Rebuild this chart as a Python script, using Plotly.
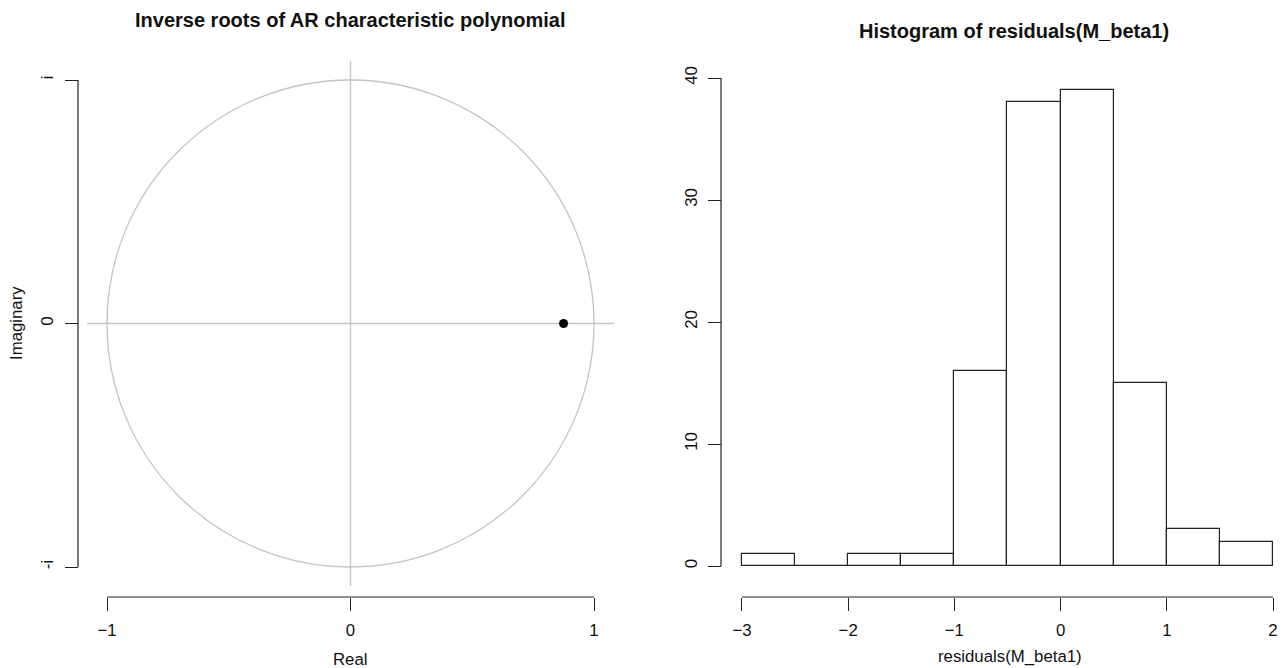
import plotly.graph_objects as go

W, H = 1282, 668

# ---- data ----
root_real = [0.875]
root_imag = [0.0]
ar_tickvals_x = [-1, 0, 1]
ar_ticktext_x = ["\u22121", "0", "1"]
ar_tickvals_y = [-1, 0, 1]
ar_ticktext_y = ["-i", "0", "i"]

bin_edges = [-3.0, -2.5, -2.0, -1.5, -1.0, -0.5, 0.0, 0.5, 1.0, 1.5, 2.0]
counts = [1, 0, 1, 1, 16, 38, 39, 15, 3, 2]
hist_tickvals_x = [-3, -2, -1, 0, 1, 2]
hist_ticktext_x = ["\u22123", "\u22122", "\u22121", "0", "1", "2"]
hist_tickvals_y = [0, 10, 20, 30, 40]

centers = [(a + b) / 2 for a, b in zip(bin_edges[:-1], bin_edges[1:])]
widths = [b - a for a, b in zip(bin_edges[:-1], bin_edges[1:])]

FONT = "Liberation Sans, Arial, sans-serif"
LAB = 16.8
TITLE = 20
GREY = "#c4c4c4"
AX = "#222222"

def px(x):
    return x / W

def py(y):
    return (H - y) / H

fig = go.Figure()

# AR roots point
fig.add_trace(go.Scatter(x=root_real, y=root_imag, mode="markers",
                         marker=dict(color="black", size=9),
                         xaxis="x", yaxis="y", showlegend=False, hoverinfo="skip"))

# histogram bars
fig.add_trace(go.Bar(x=centers, y=counts, width=widths,
                     marker=dict(color="white", line=dict(color=AX, width=1.2)),
                     xaxis="x2", yaxis="y2", showlegend=False))

axis_common = dict(showgrid=False, zeroline=False, showline=False,
                   ticks="outside", ticklen=13, tickwidth=1.2, tickcolor=AX,
                   tickfont=dict(family=FONT, size=LAB, color="#111"))

# left panel geometry (pixels)
L_x0, L_x1 = 87, 614
L_y0, L_y1 = 61, 586
ux = 243.5
xr = 1 + 20 / ux
yr = 1 + 19 / ux

# right panel geometry
R_x0, R_x1 = 720, 1282
R_y0, R_y1 = 58, 586
hx = 106.4
hy = 12.2

fig.update_layout(
    width=W, height=H,
    margin=dict(l=0, r=0, t=0, b=0),
    paper_bgcolor="white", plot_bgcolor="rgba(0,0,0,0)",
    bargap=0,
    xaxis=dict(domain=[px(L_x0), px(L_x1)], range=[-xr, xr],
               anchor="free", position=py(597),
               tickvals=ar_tickvals_x, ticktext=ar_ticktext_x,
               ticklabelstandoff=5, **axis_common),
    yaxis=dict(domain=[py(L_y1), py(L_y0)], range=[-yr, yr],
               anchor="free", position=px(78),
               tickvals=ar_tickvals_y, ticktext=ar_ticktext_y,
               tickangle=-90, ticklabelstandoff=5, **axis_common),
    xaxis2=dict(domain=[px(R_x0), px(R_x1)],
                range=[-3 - 22 / hx, 2 + (R_x1 - 1273) / hx],
                anchor="free", position=py(597),
                tickvals=hist_tickvals_x, ticktext=hist_ticktext_x,
                ticklabelstandoff=5, **axis_common),
    yaxis2=dict(domain=[py(R_y1), py(R_y0)],
                range=[-(R_y1 - 566) / hy, 40 + (78 - R_y0) / hy],
                anchor="free", position=px(721),
                tickvals=hist_tickvals_y, tickangle=-90,
                ticklabelstandoff=4, **axis_common),
)

shapes = []
# unit circle and grey reference lines
shapes.append(dict(type="circle", xref="x", yref="y", x0=-1, x1=1, y0=-1, y1=1,
                   line=dict(color=GREY, width=1.3), layer="below"))
shapes.append(dict(type="line", xref="x domain", yref="y", x0=0, x1=1, y0=0, y1=0,
                   line=dict(color=GREY, width=1.3), layer="below"))
shapes.append(dict(type="line", xref="x", yref="y domain", x0=0, x1=0, y0=0, y1=1,
                   line=dict(color=GREY, width=1.3), layer="below"))
# R-style axis lines spanning first to last tick
shapes.append(dict(type="line", xref="x", yref="paper",
                   x0=ar_tickvals_x[0], x1=ar_tickvals_x[-1], y0=py(597), y1=py(597),
                   line=dict(color=AX, width=1.2)))
shapes.append(dict(type="line", xref="paper", yref="y",
                   x0=px(78), x1=px(78), y0=ar_tickvals_y[0], y1=ar_tickvals_y[-1],
                   line=dict(color=AX, width=1.2)))
shapes.append(dict(type="line", xref="x2", yref="paper",
                   x0=hist_tickvals_x[0], x1=hist_tickvals_x[-1], y0=py(597), y1=py(597),
                   line=dict(color=AX, width=1.2)))
shapes.append(dict(type="line", xref="paper", yref="y2",
                   x0=px(721), x1=px(721), y0=hist_tickvals_y[0], y1=hist_tickvals_y[-1],
                   line=dict(color=AX, width=1.2)))
fig.update_layout(shapes=shapes)

ann = []
def text(x, y, s, size=LAB, bold=False, angle=0):
    ann.append(dict(x=px(x), y=py(y), xref="paper", yref="paper", text=("<b>%s</b>" % s) if bold else s,
                    showarrow=False, xanchor="center", yanchor="middle", textangle=angle,
                    font=dict(family=FONT, size=size, color="#111")))

text(350, 20, "Inverse roots of AR characteristic polynomial", TITLE, True)
text(1014, 31, "Histogram of residuals(M_beta1)", TITLE, True)
text(350, 659, "Real")
text(17, 323, "Imaginary", angle=-90)
text(1010, 656, "residuals(M_beta1)")
fig.update_layout(annotations=ann)

fig.write_html("out.html")
